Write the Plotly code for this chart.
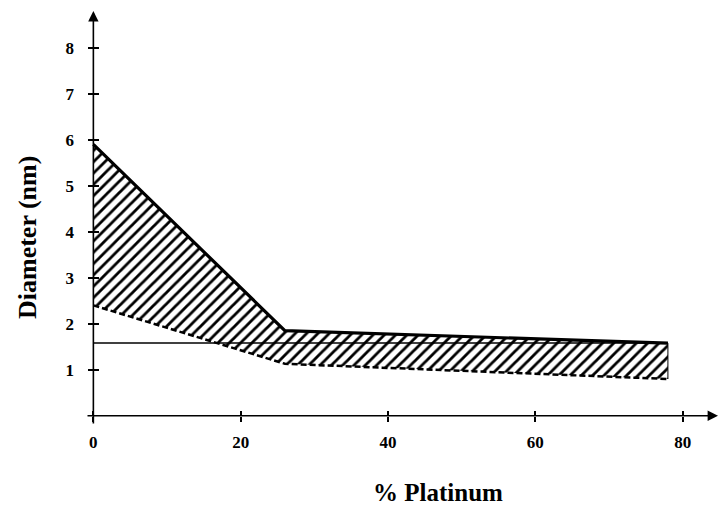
import plotly.graph_objects as go

# Data
upper_x = [0, 26, 78]
upper_y = [5.9, 1.85, 1.58]
lower_x = [0, 26, 78]
lower_y = [2.4, 1.13, 0.8]
ref_x = [0, 78]
ref_y = [1.58, 1.58]
x_ticks = [0, 20, 40, 60, 80]
y_ticks = [1, 2, 3, 4, 5, 6, 7, 8]

XR = [-1, 84.8]
YR = [-0.2, 8.8]
FONT = "Liberation Serif, Times New Roman, serif"

# paper positions of the data origin (where the axes cross)
x0_pos = (0 - XR[0]) / (XR[1] - XR[0])
y0_pos = (0 - YR[0]) / (YR[1] - YR[0])

fig = go.Figure()

poly_x = upper_x + lower_x[::-1]
poly_y = upper_y + lower_y[::-1]
fig.add_trace(go.Scatter(
    x=poly_x + [poly_x[0]], y=poly_y + [poly_y[0]], mode="lines", fill="toself",
    line=dict(width=0, color="rgba(0,0,0,0)"),
    fillcolor="white",
    fillpattern=dict(shape="/", size=8, solidity=0.35, fgcolor="black",
                     bgcolor="white", fillmode="replace"),
    hoverinfo="skip", showlegend=False))

fig.add_trace(go.Scatter(x=ref_x, y=ref_y, mode="lines",
                         line=dict(color="black", width=1.5), showlegend=False))
fig.add_trace(go.Scatter(x=lower_x, y=lower_y, mode="lines",
                         line=dict(color="black", width=2.5, dash="6px,3px"), showlegend=False))
fig.add_trace(go.Scatter(x=upper_x, y=upper_y, mode="lines",
                         line=dict(color="black", width=3.2), showlegend=False))
# right edge of the hatched band
fig.add_trace(go.Scatter(x=[upper_x[-1], lower_x[-1]], y=[upper_y[-1], lower_y[-1]], mode="lines",
                         line=dict(color="black", width=1), showlegend=False))

tickfont = dict(family=FONT, size=17, color="black", weight="bold")

fig.update_xaxes(range=XR, tickvals=x_ticks, ticktext=[str(v) for v in x_ticks],
                 ticks="outside", ticklen=5, tickwidth=1.5, tickcolor="black",
                 showline=False, showgrid=False, zeroline=False,
                 anchor="free", position=y0_pos,
                 tickfont=tickfont, ticklabelstandoff=6)
fig.update_yaxes(range=YR, tickvals=y_ticks, ticktext=[str(v) for v in y_ticks],
                 ticks="outside", ticklen=5, tickwidth=1.5, tickcolor="black",
                 showline=False, showgrid=False, zeroline=False,
                 anchor="free", position=x0_pos,
                 tickfont=tickfont, ticklabelstandoff=11)

# inner half of crossing tick marks
fig.update_layout(
    xaxis2=dict(overlaying="x", matches="x", range=XR, tickvals=x_ticks, showticklabels=False,
                ticks="inside", ticklen=5, tickwidth=1.5, tickcolor="black",
                anchor="free", position=y0_pos,
                showgrid=False, zeroline=False, showline=False, side="bottom"),
    yaxis2=dict(overlaying="y", matches="y", range=YR, tickvals=y_ticks, showticklabels=False,
                ticks="inside", ticklen=5, tickwidth=1.5, tickcolor="black",
                anchor="free", position=x0_pos,
                showgrid=False, zeroline=False, showline=False, side="left"),
)
fig.add_trace(go.Scatter(x=[None], y=[None], xaxis="x2", yaxis="y2", showlegend=False))

annotations = [
    # axes with arrowheads
    dict(x=XR[1], y=0, ax=XR[0], ay=0, xref="x", yref="y", axref="x", ayref="y",
         showarrow=True, arrowhead=2, arrowsize=1.3, arrowwidth=1.6, arrowcolor="black", text=""),
    dict(x=0, y=YR[1], ax=0, ay=YR[0], xref="x", yref="y", axref="x", ayref="y",
         showarrow=True, arrowhead=2, arrowsize=1.3, arrowwidth=1.6, arrowcolor="black", text=""),
    dict(text="Diameter (nm)", textangle=-90, xref="paper", yref="paper",
         x=-0.0934, y=0.454, xanchor="center", yanchor="middle", showarrow=False,
         font=dict(family=FONT, size=26, color="black", weight="bold")),
    dict(text="% Platinum", xref="paper", yref="paper",
         x=0.557, y=-0.162, xanchor="center", yanchor="middle", showarrow=False,
         font=dict(family=FONT, size=25, color="black", weight="bold")),
]

fig.update_layout(
    width=723, height=506,
    margin=dict(l=86, r=5, t=11, b=81),
    paper_bgcolor="white", plot_bgcolor="white",
    annotations=annotations,
    showlegend=False,
)

fig.write_html("out.html")
